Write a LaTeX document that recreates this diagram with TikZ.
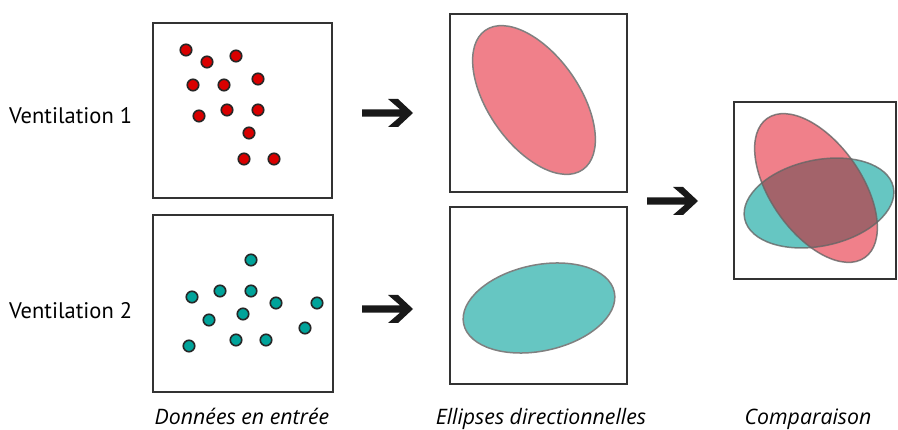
\documentclass[tikz,border=0pt]{standalone}
\usepackage{fontspec}
\setmainfont{PT Sans}
\newfontfamily\capfont{Open Sans}
\begin{document}
\begin{tikzpicture}[x=1pt,y=-1pt,
  panel/.style={draw=black!80,line width=2pt,inner sep=0pt},
  reddot/.style={circle,draw=black!85,line width=1.6pt,fill=red!85!black,minimum size=11.5pt,inner sep=0pt},
  tealdot/.style={circle,draw=black!85,line width=1.6pt,fill=tealdk,minimum size=11.5pt,inner sep=0pt},
  lbl/.style={font=\fontsize{22.5}{26}\selectfont,anchor=base west,inner sep=0pt},
  captxt/.style={font=\capfont\fontsize{21.3}{25}\selectfont\itshape,anchor=base,inner sep=0pt},
  ellout/.style={draw=black!50,line width=1.5pt}]
\definecolor{tealdk}{HTML}{00A39A}
\definecolor{redfill}{HTML}{F0808A}
\definecolor{tealfill}{HTML}{66C6C2}
\definecolor{overlap}{HTML}{A3636A}
\useasboundingbox (0,0) rectangle (898,430);
% labels
\node[lbl] (v1) at (9,124) {Ventilation 1};
\node[lbl] (v2) at (9,319) {Ventilation 2};
% panels
\node[panel,minimum width=179pt,minimum height=175pt] (in1) at (242.5,110.5) {};
\node[panel,minimum width=180pt,minimum height=177pt] (in2) at (243,303.5) {};
\node[panel,minimum width=177pt,minimum height=178pt] (el1) at (538.5,103) {};
\node[panel,minimum width=177pt,minimum height=177pt] (el2) at (538.5,295.5) {};
\node[panel,minimum width=162pt,minimum height=177pt] (cmp) at (814.5,190.5) {};
% red dots
\foreach \p [count=\i] in {(186,50),(207,62),(236,56),(193,85),(224,85),(258,79),(199,116),(227,110),(258,110),(249,133),(244,159),(274,159)}
  \node[reddot] (r\i) at \p {};
% teal dots
\foreach \p [count=\i] in {(251,260),(192,297),(220,291),(251,291),(276,303),(317,303),(209,320),(243,314),(305,328),(189,346),(236,340),(266,340)}
  \node[tealdot] (t\i) at \p {};
% single ellipses
\draw[ellout,fill=redfill] (534,100) ellipse[x radius=85pt,y radius=45.5pt,rotate=-55];
\draw[ellout,fill=tealfill] (539,308) ellipse[x radius=77pt,y radius=43pt,rotate=12];
% comparison
\fill[tealfill] (819,203) ellipse[x radius=76pt,y radius=43pt,rotate=12];
\fill[redfill] (816,188) ellipse[x radius=85pt,y radius=45.5pt,rotate=-55];
\begin{scope}
  \clip (819,203) ellipse[x radius=76pt,y radius=43pt,rotate=12];
  \fill[overlap] (816,188) ellipse[x radius=85pt,y radius=45.5pt,rotate=-55];
\end{scope}
\draw[draw=black!60,line width=1.5pt,draw opacity=0.8] (819,203) ellipse[x radius=76pt,y radius=43pt,rotate=12];
\draw[draw=black!60,line width=1.5pt,draw opacity=0.8] (816,188) ellipse[x radius=85pt,y radius=45.5pt,rotate=-55];
% arrows
\foreach \tx/\ty [count=\i] in {413/113, 413/309, 698/201}{
  \coordinate (a\i) at (\tx,\ty);
  \fill[black!90] ([shift={(-51,-3.7)}]a\i) -- ([shift={(-13,-3.7)}]a\i) -- ([shift={(-25,-14)}]a\i)
     -- ([shift={(-15,-14)}]a\i) -- (a\i) -- ([shift={(-15,14)}]a\i) -- ([shift={(-25,14)}]a\i)
     -- ([shift={(-13,3.7)}]a\i) -- ([shift={(-51,3.7)}]a\i) -- cycle;
}
% captions
\node[captxt] (c1) at (242,425) {Données en entrée};
\node[captxt] (c2) at (541,425) {Ellipses directionnelles};
\node[captxt] (c3) at (808,425) {Comparaison};
\end{tikzpicture}
\end{document}
